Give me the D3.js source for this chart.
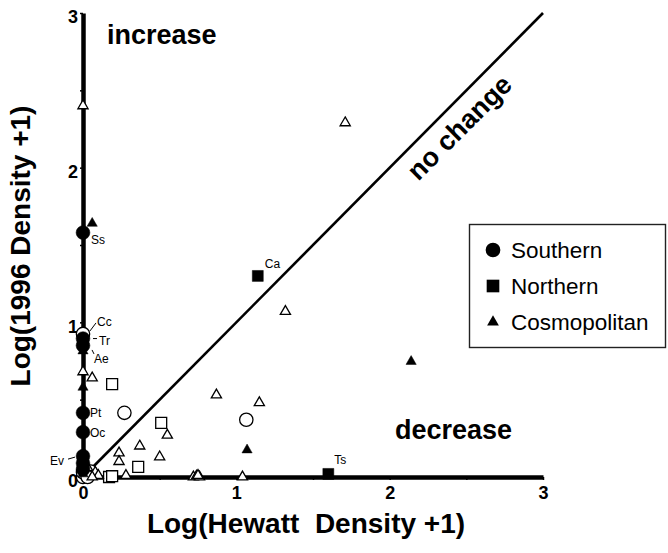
<!DOCTYPE html>
<html>
<head>
<meta charset="utf-8">
<script src="https://cdn.jsdelivr.net/npm/d3@7"></script>
<style>
  body { margin: 0; background: #fff; }
  svg { display: block; font-family: "Liberation Sans", Arial, Helvetica, sans-serif; }
</style>
</head>
<body>
<svg id="chart" width="668" height="553"></svg>
<script>
// ---- data (log10(density+1)) ----
const xTicks = [0, 0.5, 1, 1.5, 2, 2.5, 3];
const yTicks = [0, 0.5, 1, 1.5, 2, 2.5, 3];
const tickLabels = ["0", "", "1", "", "2", "", "3"];

const groups = ["Southern", "Northern", "Cosmopolitan"];

// filled = labelled species, open = other species
const southernFilled = [[0, 1.58], [0, 0.895], [0, 0.85], [0, 0.415], [0, 0.29], [0, 0.135], [0, 0.09], [0, 0.05]];
const southernOpen = [[0.27, 0.415], [1.065, 0.37], [0, 0.925], [0, 0], [0.02, 0.02], [0.05, 0.035], [0, 0.03], [0.03, 0.0]];
const northernFilled = [[1.14, 1.30], [1.60, 0.02]];
const northernOpen = [[0.19, 0.60], [0.51, 0.35], [0.36, 0.065], [0.17, 0.0], [0.19, 0.005]];
const cosmoFilled = [[0.06, 1.64], [0, 0.815], [0, 0.58], [2.14, 0.747], [1.07, 0.175], [0, 0.02]];
const cosmoOpen = [[0, 2.40], [1.71, 2.29], [1.32, 1.07], [0, 0.68], [0.06, 0.64], [0.87, 0.53],
  [1.15, 0.48], [0.55, 0.27], [0.37, 0.20], [0.235, 0.155], [0.235, 0.10], [0.50, 0.13],
  [0.28, 0.01], [0.72, 0.0], [0.74, 0.005], [0.76, 0.0], [0.75, 0.01], [1.04, 0.0],
  [0.03, 0.06], [0.08, 0.03], [0.10, 0.01], [0.06, 0.0]];

const speciesLabels = ["Ss", "Cc", "Tr", "Ae", "Pt", "Oc", "Ev", "Ca", "Ts"];
const labelPoints = [[0, 1.58], [0, 0.925], [0, 0.895], [0, 0.815], [0, 0.415], [0, 0.29], [0, 0.135], [1.14, 1.30], [1.60, 0.02]];

// ---- drawing ----
const svg = d3.select("#chart");
const x = d3.scaleLinear().domain([0, 3]).range([83, 543]);
const y = d3.scaleLinear().domain([0, 3]).range([477, 13]);

// 1:1 line
svg.append("line")
  .attr("x1", x(0)).attr("y1", y(0)).attr("x2", x(3)).attr("y2", y(3))
  .attr("stroke", "#000").attr("stroke-width", 2.6);

// axes
const xAxis = d3.axisBottom(x).tickValues(xTicks).tickSize(3).tickSizeOuter(0)
  .tickFormat((d, i) => tickLabels[i]);
const yAxis = d3.axisLeft(y).tickValues(yTicks).tickSize(3).tickSizeOuter(0)
  .tickFormat((d, i) => tickLabels[i]);

const gx = svg.append("g").attr("transform", `translate(0,${y(0)})`).call(xAxis);
const gy = svg.append("g").attr("transform", `translate(${x(0)},0)`).call(yAxis);
[gx, gy].forEach(g => {
  g.select(".domain").attr("stroke", "#000").attr("stroke-width", 4.5);
  g.selectAll(".tick line").attr("stroke", "#000").attr("stroke-width", 1.5);
  g.selectAll(".tick text").attr("fill", "#000").attr("font-size", 18).attr("font-weight", "bold")
    .attr("font-family", "Liberation Sans, Arial, sans-serif");
});
gx.selectAll(".tick text").attr("dy", "1.05em").attr("y", 3);
gy.selectAll(".tick text").attr("x", -5).attr("dy", "0.55em");

// symbols
const sym = {
  Southern: d3.symbol().type(d3.symbolCircle).size(150),
  Northern: d3.symbol().type(d3.symbolSquare).size(120),
  Cosmopolitan: d3.symbol().type(d3.symbolTriangle).size(45)
};
const openSym = {
  Southern: d3.symbol().type(d3.symbolCircle).size(140),
  Northern: d3.symbol().type(d3.symbolSquare).size(120),
  Cosmopolitan: d3.symbol().type(d3.symbolTriangle).size(45)
};

function drawPoints(data, group, filled) {
  svg.append("g").selectAll("path").data(data).join("path")
    .attr("transform", d => `translate(${x(d[0])},${y(d[1])})`)
    .attr("d", filled ? sym[group]() : openSym[group]())
    .attr("fill", filled ? "#000" : "#fff")
    .attr("stroke", "#000")
    .attr("stroke-width", filled ? 0.5 : 1.3);
}
drawPoints(southernOpen, "Southern", false);
drawPoints(northernOpen, "Northern", false);
drawPoints(cosmoOpen, "Cosmopolitan", false);
drawPoints(southernFilled, "Southern", true);
drawPoints(northernFilled, "Northern", true);
drawPoints(cosmoFilled, "Cosmopolitan", true);

// species labels (offset from their point) and small leader lines
const labelOffset = {
  Ss: [8, 11], Cc: [14, -8], Tr: [16, 6], Ae: [11, 12], Pt: [7, 4], Oc: [7, 5],
  Ev: [-33, 9], Ca: [7, -8], Ts: [6, -10]
};
const leaders = {
  Cc: [[7, -3], [13, -11]], Tr: [[10, 0], [14, 0]], Ae: [[9, -1], [11, 3]], Ev: [[-15, 3], [-8, 1]]
};
speciesLabels.forEach((name, i) => {
  const p = labelPoints[i];
  const o = labelOffset[name];
  svg.append("text").attr("x", x(p[0]) + o[0]).attr("y", y(p[1]) + o[1])
    .attr("font-size", 12).attr("fill", "#000").text(name);
  if (leaders[name]) {
    const l = leaders[name];
    svg.append("line")
      .attr("x1", x(p[0]) + l[0][0]).attr("y1", y(p[1]) + l[0][1])
      .attr("x2", x(p[0]) + l[1][0]).attr("y2", y(p[1]) + l[1][1])
      .attr("stroke", "#000").attr("stroke-width", 1);
  }
});

// region annotations
svg.append("text").attr("x", 107).attr("y", 44).attr("font-size", 27).attr("font-weight", "bold").text("increase");
svg.append("text").attr("x", 395).attr("y", 439).attr("font-size", 27).attr("font-weight", "bold").text("decrease");
svg.append("text").attr("transform", "translate(466,134) rotate(-45)").attr("text-anchor", "middle")
  .attr("font-size", 27).attr("font-weight", "bold").text("no change");

// axis titles
svg.append("text").attr("x", 306).attr("y", 533).attr("text-anchor", "middle")
  .attr("font-size", 28).attr("font-weight", "bold")
  .text("Log(Hewatt\u00a0\u00a0Density +1)");
svg.append("text").attr("transform", "translate(30,246) rotate(-90)").attr("text-anchor", "middle")
  .attr("font-size", 28).attr("font-weight", "bold").text("Log(1996 Density +1)");

// legend
const lg = svg.append("g");
lg.append("rect").attr("x", 469.5).attr("y", 224.5).attr("width", 196).attr("height", 123)
  .attr("fill", "#fff").attr("stroke", "#222").attr("stroke-width", 1.4);
const legendSym = {
  Southern: d3.symbol().type(d3.symbolCircle).size(170),
  Northern: d3.symbol().type(d3.symbolSquare).size(160),
  Cosmopolitan: d3.symbol().type(d3.symbolTriangle).size(60)
};
groups.forEach((g, i) => {
  const cy = 250 + i * 36;
  lg.append("path").attr("transform", `translate(493,${cy})`).attr("d", legendSym[g]()).attr("fill", "#000");
  lg.append("text").attr("x", 511).attr("y", cy + 8).attr("font-size", 22.5).attr("fill", "#000").text(g);
});
</script>
</body>
</html>
